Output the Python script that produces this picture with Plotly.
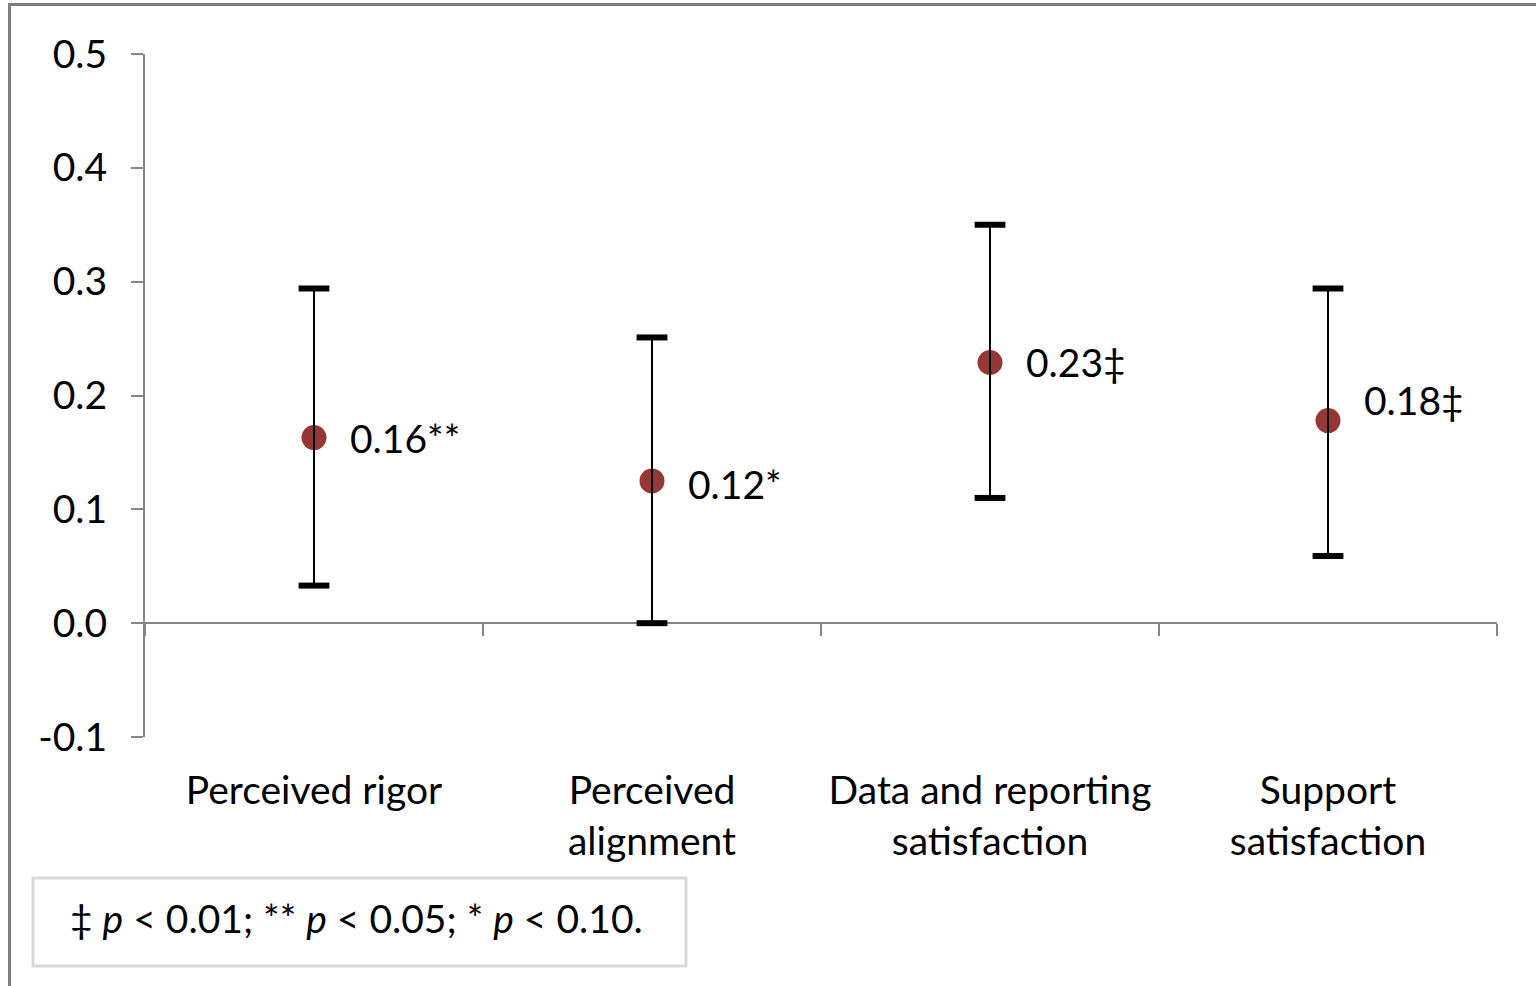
import plotly.graph_objects as go

categories = ["Perceived rigor", "Perceived<br>alignment", "Data and reporting<br>satisfaction", "Support<br>satisfaction"]
estimates = [0.163, 0.125, 0.229, 0.178]
ci_low = [0.033, 0.0, 0.110, 0.059]
ci_high = [0.294, 0.251, 0.350, 0.294]
labels = ["0.16**", "0.12*", "0.23‡", "0.18‡"]
label_yshift = [0, -3, 0, 21]
y_ticks = [-0.1, 0.0, 0.1, 0.2, 0.3, 0.4, 0.5]
y_ticktext = ["-0.1", "0.0", "0.1", "0.2", "0.3", "0.4", "0.5"]
note_text = "‡ <i>p</i> < 0.01; ** <i>p</i> < 0.05; * <i>p</i> < 0.10."

FONT = "Lato"
FS = 39
W, H = 1536, 986
L, R, T, B = 145, 39, 54, 249
pw, ph = W - L - R, H - T - B

def px(x):
    return (x - L) / pw

def py(y):
    return (H - B - y) / ph

fig = go.Figure()

# markers
fig.add_trace(go.Scatter(
    x=categories, y=estimates, mode="markers",
    marker=dict(color="#953735", size=25, line=dict(width=0)),
    showlegend=False, hoverinfo="skip"))

# error bar stems on top of markers
fig.add_trace(go.Scatter(
    x=categories, y=estimates, mode="markers",
    marker=dict(size=1, opacity=0),
    error_y=dict(type="data", symmetric=False,
                 array=[h - e for h, e in zip(ci_high, estimates)],
                 arrayminus=[e - l for e, l in zip(estimates, ci_low)],
                 color="black", thickness=2, width=0),
    showlegend=False, hoverinfo="skip"))

# caps
fig.add_trace(go.Scatter(
    x=categories + categories, y=ci_low + ci_high, mode="markers",
    marker=dict(symbol="line-ew", size=22, line=dict(color="black", width=6)),
    showlegend=False, hoverinfo="skip"))

for c, e, lab, ys in zip(categories, estimates, labels, label_yshift):
    fig.add_annotation(x=c, y=e, text=lab, showarrow=False, xanchor="left",
                       yanchor="middle", xshift=34, yshift=ys,
                       font=dict(family=FONT, size=FS, color="#000000"))

# note box
fig.add_shape(type="rect", xref="paper", yref="paper",
              x0=px(33), x1=px(686), y0=py(966), y1=py(878),
              line=dict(color="#d9d9d9", width=3), fillcolor="white")
fig.add_annotation(xref="paper", yref="paper", x=px(356), y=py(918),
                   text=note_text, showarrow=False, xanchor="center", yanchor="middle",
                   font=dict(family=FONT, size=FS, color="#000000"))

# outer border
fig.add_shape(type="rect", xref="paper", yref="paper",
              x0=px(9.5), x1=px(1560), y0=py(1010), y1=py(4.5),
              line=dict(color="#7f7f7f", width=3))

fig.update_layout(
    width=W, height=H,
    margin=dict(l=L, r=R, t=T, b=B),
    paper_bgcolor="white", plot_bgcolor="white",
    font=dict(family=FONT, size=FS, color="#000000"),
    showlegend=False,
    xaxis=dict(type="category", categoryorder="array", categoryarray=categories,
               range=[-0.5, 3.5], anchor="free", position=1/6,
               showline=True, linecolor="#868686", linewidth=2,
               ticks="outside", ticklen=12, tickwidth=2, tickcolor="#868686",
               tickson="boundaries", showgrid=False, zeroline=False,
               layer="below traces", ticklabelstandoff=133,
               tickfont=dict(family=FONT, size=FS, color="#000000")),
    yaxis=dict(range=[-0.1, 0.5], tickvals=y_ticks, ticktext=y_ticktext,
               showline=True, linecolor="#868686", linewidth=2,
               ticks="outside", ticklen=12, tickwidth=2, tickcolor="#868686",
               showgrid=False, zeroline=False, ticklabelstandoff=16,
               layer="below traces",
               tickfont=dict(family=FONT, size=FS, color="#000000")),
)

fig.write_html("out.html", config={"displayModeBar": False},
               post_script="document.body.style.margin='0px';")
